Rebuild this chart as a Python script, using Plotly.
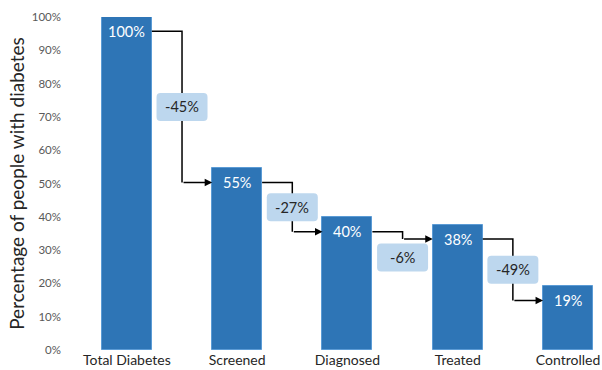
import plotly.graph_objects as go

# ---- data ----
categories = ["Total Diabetes", "Screened", "Diagnosed", "Treated", "Controlled"]
values = [100, 54.6, 39.8, 37.6, 19.2]
y_tick_vals = list(range(0, 101, 10))
y_tick_text = [f"{v}%" for v in y_tick_vals]

# ---- style ----
BAR_W = 0.4525
LABEL_DROP = 4.3
BAR_COLOR = "#2E75B6"
BOX_COLOR = "#BDD7EE"
FONT = "Lato"

x = list(range(len(categories)))
levels = [v - LABEL_DROP for v in values]
changes = [round((values[i + 1] / values[i] - 1) * 100) for i in range(len(values) - 1)]

fig = go.Figure()
fig.add_trace(go.Bar(
    x=x, y=values, width=BAR_W,
    marker=dict(color=BAR_COLOR, line=dict(color="#5B9BD5", width=1)),
    hoverinfo="skip", showlegend=False,
))

annotations = []
shapes = []
for i, v in enumerate(values):
    annotations.append(dict(
        x=i, y=levels[i], xref="x", yref="y", text=f"{round(v)}%",
        showarrow=False, font=dict(color="white", size=14.5, family=FONT),
    ))

w2, h2, r = 25.5, 14, 4
box_path = (f"M {-w2 + r},{-h2} L {w2 - r},{-h2} Q {w2},{-h2} {w2},{-h2 + r} "
            f"L {w2},{h2 - r} Q {w2},{h2} {w2 - r},{h2} L {-w2 + r},{h2} "
            f"Q {-w2},{h2} {-w2},{h2 - r} L {-w2},{-h2 + r} Q {-w2},{-h2} {-w2 + r},{-h2} Z")

for i, c in enumerate(changes):
    xm = i + 0.5
    fig.add_trace(go.Scatter(
        x=[i + BAR_W / 2, xm, xm], y=[levels[i], levels[i], levels[i + 1]],
        mode="lines", line=dict(color="black", width=1.5),
        hoverinfo="skip", showlegend=False,
    ))
    annotations.append(dict(
        x=i + 1 - BAR_W / 2, y=levels[i + 1], ax=xm, ay=levels[i + 1],
        xref="x", yref="y", axref="x", ayref="y", text="",
        showarrow=True, arrowhead=2, arrowsize=1, arrowwidth=1.5,
        arrowcolor="black", standoff=0,
    ))
    gap = levels[i] - levels[i + 1]
    box_y = (levels[i] + levels[i + 1]) / 2 if gap >= 10 else levels[i + 1] - 5.5
    shapes.append(dict(
        type="path", xref="x", yref="y", xsizemode="pixel", ysizemode="pixel",
        xanchor=xm, yanchor=box_y, path=box_path,
        fillcolor=BOX_COLOR, line=dict(width=0), layer="above",
    ))
    annotations.append(dict(
        x=xm, y=box_y, xref="x", yref="y", text=f"{c}%",
        showarrow=False, font=dict(color="#262626", size=14.5, family=FONT),
    ))

fig.update_layout(
    width=602, height=370,
    margin=dict(l=64, r=2, t=17, b=16),
    plot_bgcolor="white", paper_bgcolor="white",
    font=dict(family=FONT),
    annotations=annotations, shapes=shapes,
    bargap=0,
    xaxis=dict(
        range=[-0.5701, 4.281], tickvals=x, ticktext=categories,
        showline=False, showgrid=False, zeroline=False, ticks="",
        tickfont=dict(size=14, color="#262626", family=FONT),
    ),
    yaxis=dict(
        range=[0, 100], tickvals=y_tick_vals, ticktext=y_tick_text,
        showline=False, showgrid=False, zeroline=False, ticks="",
        ticklabelstandoff=2,
        tickfont=dict(size=11.5, color="#595959", family=FONT),
        title=dict(text="Percentage of people with diabetes",
                   font=dict(size=19, color="#262626", family=FONT), standoff=2),
    ),
)

fig.write_html("out.html")
